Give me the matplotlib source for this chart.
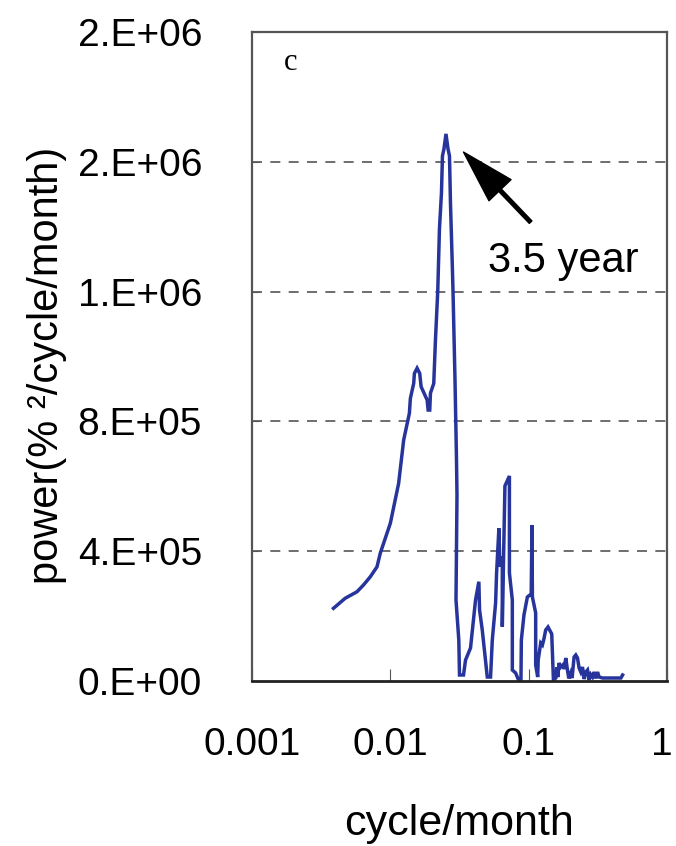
import numpy as np
import matplotlib
matplotlib.use("Agg")
from matplotlib import pyplot as plt
from matplotlib.transforms import ScaledTranslation

plt.rcParams['font.family'] = ['Liberation Sans', 'DejaVu Sans']

# periodogram (cycle/month, power)
freq = [0.00388, 0.00472, 0.00574, 0.00640, 0.00716, 0.00801, 0.00846, 0.0100,
        0.01148, 0.01249, 0.01373, 0.01396, 0.01475, 0.01493, 0.01561, 0.01631,
        0.01669, 0.01845, 0.01876, 0.01927, 0.01950, 0.02060, 0.02119, 0.02202,
        0.02265, 0.02342, 0.02381, 0.02442, 0.02525, 0.02611, 0.02677, 0.02722,
        0.02805, 0.02838, 0.02934, 0.03008, 0.03033, 0.02983, 0.03126, 0.03162,
        0.03381, 0.03496, 0.03799, 0.04130, 0.04364, 0.04416, 0.04619, 0.05021,
        0.05303, 0.05458, 0.05767, 0.05863, 0.06093, 0.06194, 0.06447, 0.06447,
        0.06734, 0.07258, 0.07258, 0.07618, 0.07618, 0.08049, 0.08505, 0.08794,
        0.08853, 0.09246, 0.09787, 0.1043, 0.1057, 0.1064, 0.1124, 0.1124,
        0.1162, 0.1172, 0.1222, 0.1257, 0.1284, 0.1328, 0.1380, 0.1443,
        0.1468, 0.1510, 0.1569, 0.1600, 0.1625, 0.1658, 0.1706, 0.1764,
        0.1808, 0.1854, 0.1907, 0.1950, 0.2015, 0.2060, 0.2130, 0.2191,
        0.2254, 0.2315, 0.2382, 0.2449, 0.2520, 0.2588, 0.2663, 0.2735,
        0.2810, 0.2894, 0.2973, 0.3060, 0.3146, 0.3231, 0.3420, 0.3718,
        0.4130, 0.4642, 0.4775]
power = [224000, 255000, 275000, 296000, 321000, 352000, 394000, 486000,
         609000, 743000, 825000, 871000, 917000, 948000, 964000, 948000,
         907000, 866000, 835000, 835000, 887000, 917000, 1051000, 1202000,
         1393000, 1504000, 1618000, 1640000, 1686000, 1640000, 1618000, 1470000,
         1282000, 1202000, 928000, 681000, 573000, 250000, 126000, 18500,
         18500, 64700, 101700, 249600, 306000, 218800, 157200, 12300,
         12300, 126400, 240400, 332900, 470600, 352300, 383100, 167400,
         601000, 631800, 332900, 249600, 33900, 24700, 0, 0,
         126400, 203400, 258900, 268100, 480800, 258900, 209600, 49300,
         12300, 64700, 117100, 111000, 126400, 157200, 166400, 151000,
         144900, 3100, 9200, 42000, 12000, 55500, 43100, 49300,
         37000, 70900, 33900, 8000, 24700, 9000, 74000, 80100,
         70900, 40100, 27700, 43100, 6000, 27700, 33900, 3100,
         20000, 12300, 27700, 8000, 27700, 12300, 9200, 9200,
         9200, 9200, 18500]

y_ticks = [0, 4e5, 8e5, 1.2e6, 1.6e6, 2.0e6]
y_labels = ["0.E+00", "4.E+05", "8.E+05", "1.E+06", "2.E+06", "2.E+06"]
x_ticks = [0.001, 0.01, 0.1, 1]
x_labels = ["0.001", "0.01", "0.1", "1"]

fig = plt.figure(figsize=(6.76, 8.46), dpi=100)
ax = fig.add_axes([252/676, 1 - 681/846, 415/676, 649/846])

ax.plot(freq, power, color='#26349b', lw=2.5, solid_joinstyle='miter')

ax.set_xscale('log')
ax.set_xlim(0.001, 1)
ax.set_ylim(0, 2.0e6)
ax.set_xticks(x_ticks)
ax.set_xticklabels(x_labels)
ax.minorticks_off()
ax.set_yticks(y_ticks)
ax.set_yticklabels(y_labels)

# dashed grid only on the inner ticks
for yv in y_ticks[1:-1]:
    ax.axhline(yv, color='#555555', lw=1.2, ls=(0, (6, 5)), zorder=0)

ax.tick_params(axis='x', direction='in', length=9, width=0.8, color='#555555',
               labelsize=28, pad=33)
ax.tick_params(axis='y', direction='in', length=5, width=0.8, color='#555555',
               labelsize=28, pad=36)
for s in ['top', 'right', 'left']:
    ax.spines[s].set_color('#555555')
    ax.spines[s].set_linewidth(1.6)
ax.spines['bottom'].set_color('#222222')
ax.spines['bottom'].set_linewidth(2.0)

# pull the last x label a little inside the figure
last = ax.get_xticklabels()[-1]
last.set_transform(last.get_transform() + ScaledTranslation(-5/100, 0, fig.dpi_scale_trans))

ax.set_xlabel('cycle/month', fontsize=31)
ax.xaxis.set_label_coords(0.5, -0.19)
ax.set_ylabel('power(% ²/cycle/month)', fontsize=30)
ax.yaxis.set_label_coords(-0.445, 0.487)

ax.text(0.093, 0.953, 'c', transform=ax.transAxes, fontsize=22,
        family=['Liberation Serif'], ha='center', va='center')

ax.annotate('', xy=(0.0338, 1.63e6), xytext=(0.1033, 1.414e6),
            arrowprops=dict(facecolor='black', edgecolor='black', width=2.6,
                            headwidth=22, headlength=38, shrink=0))
ax.text(0.0505, 1.294e6, '3.5 year', fontsize=30, ha='left', va='center')

fig.savefig('out.png', dpi=100)
